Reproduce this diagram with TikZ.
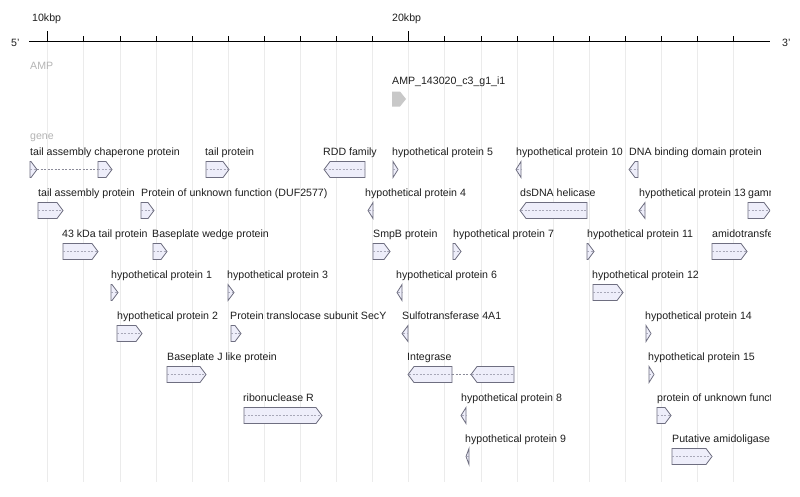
\documentclass[tikz,border=0pt]{standalone}
\usepackage{fontspec}
\setmainfont{Liberation Sans}
\definecolor{genefill}{HTML}{EEEEFA}
\definecolor{geneline}{HTML}{6E6E80}
\definecolor{gridc}{HTML}{EBEBEB}
\definecolor{trackc}{HTML}{B4B4B4}
\definecolor{midc}{HTML}{A8A8B8}
\definecolor{ampc}{HTML}{C8C8C8}
\definecolor{txtc}{HTML}{1E1E1E}
\newcommand{\gfwd}[3]{%
  \pgfmathsetmacro{\gnA}{#1}%
  \pgfmathsetmacro{\gnB}{#2}%
  \pgfmathsetmacro{\gnH}{max(#1,#2-6)}%
  \pgfmathsetmacro{\gnT}{#3}%
  \pgfmathsetmacro{\gnM}{#3+8}%
  \pgfmathsetmacro{\gnD}{#3+16}%
  \draw[genebox] (\gnA,\gnT) -- (\gnH,\gnT) -- (\gnB,\gnM) -- (\gnH,\gnD) -- (\gnA,\gnD) -- cycle;
  \draw[genemid] (\gnA,\gnM) -- ({\gnB-1},\gnM);%
}
\newcommand{\grev}[3]{%
  \pgfmathsetmacro{\gnA}{#1}%
  \pgfmathsetmacro{\gnB}{#2}%
  \pgfmathsetmacro{\gnH}{min(#1+6,#2)}%
  \pgfmathsetmacro{\gnT}{#3}%
  \pgfmathsetmacro{\gnM}{#3+8}%
  \pgfmathsetmacro{\gnD}{#3+16}%
  \draw[genebox] (\gnA,\gnM) -- (\gnH,\gnT) -- (\gnB,\gnT) -- (\gnB,\gnD) -- (\gnH,\gnD) -- cycle;
  \draw[genemid] ({\gnA+1},\gnM) -- (\gnB,\gnM);%
}
\tikzset{
  genebox/.style={draw=geneline, fill=genefill, line width=0.8pt, line join=miter},
  genemid/.style={draw=midc, dash pattern=on 2pt off 1.5pt, line width=0.5pt},
  splitline/.style={draw=geneline!80, dash pattern=on 2pt off 1.5pt, line width=0.6pt},
  lbl/.style={anchor=base west, inner sep=0pt, text=txtc, font=\fontsize{10.6}{12}\selectfont},
  tracklbl/.style={anchor=base west, inner sep=0pt, text=trackc, font=\fontsize{10.6}{12}\selectfont},
  gridline/.style={draw=gridc, line width=0.9pt},
  tickline/.style={draw=black, line width=1pt}
}
\begin{document}
\begin{tikzpicture}[x=1pt,y=-1pt]
\useasboundingbox (0,0) rectangle (800,496);
\fill[white] (0,0) rectangle (800,496);
% grid
\foreach \i in {0,...,19} {
  \draw[gridline] ({47.8+36.1*\i},41.5) -- ({47.8+36.1*\i},482);
}
% axis
\draw[line width=1.3pt] (29,41.5) -- (770,41.5);
\foreach \i in {1,...,9,11,12,...,19} {
  \draw[tickline] ({47.8+36.1*\i},36) -- ({47.8+36.1*\i},41.5);
}
\draw[tickline] (47.8,31) -- (47.8,41.5);
\draw[tickline] (408.8,31) -- (408.8,41.5);
\node[lbl] (k10) at (32,21.5) {10kbp};
\node[lbl] (k20) at (392,21.5) {20kbp};
\node[lbl] (p5) at (11,46) {5'};
\node[lbl] (p3) at (782,46) {3'};
% AMP track
\node[tracklbl] (amp) at (30,69) {AMP};
\node[lbl] (ampl) at (392,84) {AMP\_143020\_c3\_g1\_i1};
\fill[ampc] (392,91.5) -- (400,91.5) -- (406,99) -- (400,106.5) -- (392,106.5) -- cycle;
% gene track
\node[tracklbl] (gene) at (30,139.5) {gene};
\begin{scope}
\clip (0,0) rectangle (770,496);
% row 1
\node[lbl] (l11) at (30,155.5) {tail assembly chaperone protein};
\draw[splitline] (37,169.5) -- (98,169.5);
\gfwd{30}{37}{161.5}
\gfwd{98}{112}{161.5}
\node[lbl] (l12) at (205,155.5) {tail protein};
\gfwd{206}{229}{161.5}
\node[lbl] (l13) at (323,155.5) {RDD family};
\grev{324}{365}{161.5}
\node[lbl] (l14) at (392,155.5) {hypothetical protein 5};
\gfwd{393}{398}{161.5}
\node[lbl] (l15) at (516,155.5) {hypothetical protein 10};
\grev{516}{521}{161.5}
\node[lbl] (l16) at (629,155.5) {DNA binding domain protein};
\grev{629}{638}{161.5}
% row 2
\node[lbl] (l21) at (38,196.5) {tail assembly protein};
\gfwd{38}{63}{202.5}
\node[lbl] (l22) at (141,196.5) {Protein of unknown function (DUF2577)};
\gfwd{141}{154}{202.5}
\node[lbl] (l23) at (365,196.5) {hypothetical protein 4};
\grev{368}{373}{202.5}
\node[lbl] (l24) at (520,196.5) {dsDNA helicase};
\grev{520}{587}{202.5}
\node[lbl] (l25) at (639,196.5) {hypothetical protein 13};
\grev{639}{645}{202.5}
\node[lbl] (l26) at (748,196.5) {gamma};
\gfwd{748}{770}{202.5}
% row 3
\node[lbl] (l31) at (62,237.5) {43 kDa tail protein};
\gfwd{63}{98}{243.5}
\node[lbl] (l32) at (152,237.5) {Baseplate wedge protein};
\gfwd{153}{167}{243.5}
\node[lbl] (l33) at (373,237.5) {SmpB protein};
\gfwd{373}{390}{243.5}
\node[lbl] (l34) at (453,237.5) {hypothetical protein 7};
\gfwd{453}{461}{243.5}
\node[lbl] (l35) at (587,237.5) {hypothetical protein 11};
\gfwd{587}{594}{243.5}
\node[lbl] (l36) at (712,237.5) {amidotransferase};
\gfwd{712}{747}{243.5}
% row 4
\node[lbl] (l41) at (111,278.5) {hypothetical protein 1};
\gfwd{111}{118}{284.5}
\node[lbl] (l42) at (227,278.5) {hypothetical protein 3};
\gfwd{228}{234}{284.5}
\node[lbl] (l43) at (396,278.5) {hypothetical protein 6};
\grev{397}{402}{284.5}
\node[lbl] (l44) at (592,278.5) {hypothetical protein 12};
\gfwd{593}{623}{284.5}
% row 5
\node[lbl] (l51) at (117,319.5) {hypothetical protein 2};
\gfwd{117}{142}{325.5}
\node[lbl] (l52) at (230,319.5) {Protein translocase subunit SecY};
\gfwd{231}{241}{325.5}
\node[lbl] (l53) at (402,319.5) {Sulfotransferase 4A1};
\grev{402}{408}{325.5}
\node[lbl] (l54) at (645,319.5) {hypothetical protein 14};
\gfwd{646}{651}{325.5}
% row 6
\node[lbl] (l61) at (167,360.5) {Baseplate J like protein};
\gfwd{167}{206}{366.5}
\node[lbl] (l62) at (407,360.5) {Integrase};
\draw[splitline] (452,374.5) -- (471,374.5);
\grev{408}{452}{366.5}
\grev{471}{514}{366.5}
\node[lbl] (l63) at (648,360.5) {hypothetical protein 15};
\gfwd{649}{654}{366.5}
% row 7
\node[lbl] (l71) at (243,401.5) {ribonuclease R};
\gfwd{244}{322}{407.5}
\node[lbl] (l72) at (461,401.5) {hypothetical protein 8};
\grev{461}{466}{407.5}
\node[lbl] (l73) at (657,401.5) {protein of unknown function};
\gfwd{657}{671}{407.5}
% row 8
\node[lbl] (l81) at (465,442.5) {hypothetical protein 9};
\grev{466}{469}{448.5}
\node[lbl] (l82) at (672,442.5) {Putative amidoligase};
\gfwd{672}{712}{448.5}
\end{scope}
\end{tikzpicture}
\end{document}
